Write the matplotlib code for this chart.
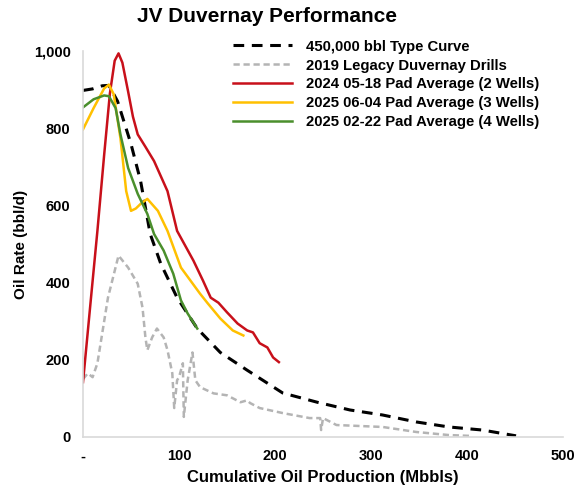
import matplotlib.pyplot as plt
from matplotlib.ticker import FuncFormatter

plt.rcParams['font.family'] = ['Liberation Sans', 'DejaVu Sans']
plt.rcParams['font.weight'] = 'bold'

# values (cum Mbbls, bbl/d)
type_x = [0, 10, 20, 27, 36, 50, 60, 70, 81, 98, 119, 143, 171, 208, 244, 278, 312, 347, 381, 416, 451]
type_y = [898, 902, 910, 911, 870, 759, 663, 526, 449, 361, 281, 219, 173, 114, 90, 70, 57, 39, 26, 18, 3]

legacy_x = [0, 5, 10, 15, 26, 37, 47, 57, 62, 65, 67, 72, 77, 84, 88, 93, 95, 98, 100, 104, 105,
            109, 114, 117, 122, 136, 150, 164, 171, 174, 184, 208, 236, 247, 248, 250, 264, 312, 347, 381, 402]
legacy_y = [150, 165, 155, 191, 361, 470, 439, 397, 335, 258, 225, 258, 281, 258, 225, 165, 75, 147,
            155, 191, 52, 147, 219, 147, 129, 113, 108, 90, 95, 88, 75, 62, 49, 49, 18, 49, 31, 26, 13, 5, 3]

red_x = [0, 8, 15, 22, 28, 33, 37, 41, 47, 52, 57, 65, 74, 88, 98, 115, 125, 133, 141, 150, 161, 171, 177, 184, 192, 198, 204]
red_y = [142, 352, 534, 730, 890, 975, 994, 970, 895, 830, 784, 752, 715, 637, 534, 457, 405, 361, 348, 323, 294, 276, 271, 243, 232, 206, 194]

yellow_x = [0, 11, 22, 27, 32, 39, 45, 50, 55, 60, 67, 78, 88, 102, 112, 122, 130, 143, 156, 167]
yellow_y = [797, 852, 903, 913, 888, 774, 637, 586, 592, 604, 617, 586, 534, 439, 405, 371, 346, 307, 276, 263]

green_x = [0, 11, 22, 27, 34, 39, 47, 57, 67, 74, 84, 94, 102, 109, 119]
green_y = [854, 875, 885, 883, 852, 784, 697, 630, 578, 526, 483, 423, 354, 320, 281]

labels = ['450,000 bbl Type Curve', '2019 Legacy Duvernay Drills',
          '2024 05-18 Pad Average (2 Wells)', '2025 06-04 Pad Average (3 Wells)',
          '2025 02-22 Pad Average (4 Wells)']

fig = plt.figure(figsize=(5.74, 4.91), dpi=100)
ax = fig.add_axes([0.1446, 0.110, 0.8364, 0.786])

ax.plot(type_x, type_y, color='black', lw=2.2, dashes=(3.5, 2.5), label=labels[0])
ax.plot(legacy_x, legacy_y, color='#B4B4B4', lw=1.8, dashes=(2.5, 1.5), label=labels[1])
ax.plot(red_x, red_y, color='#C8101A', lw=1.8, label=labels[2])
ax.plot(yellow_x, yellow_y, color='#FFC000', lw=1.8, label=labels[3])
ax.plot(green_x, green_y, color='#4A8F2C', lw=1.8, label=labels[4])

ax.set_xlim(0, 500)
ax.set_ylim(0, 1000)
ax.set_xticks([0, 100, 200, 300, 400, 500])
ax.set_yticks([0, 200, 400, 600, 800, 1000])
ax.xaxis.set_major_formatter(FuncFormatter(lambda v, p: '-' if v == 0 else f'{v:,.0f}'))
ax.yaxis.set_major_formatter(FuncFormatter(lambda v, p: f'{v:,.0f}'))
ax.tick_params(length=0, labelsize=10.5, pad=9)
for s in ['top', 'right']:
    ax.spines[s].set_visible(False)
for s in ['left', 'bottom']:
    ax.spines[s].set_color('#D9D9D9')
    ax.spines[s].set_linewidth(1.2)

ax.set_xlabel('Cumulative Oil Production (Mbbls)', fontsize=12, fontweight='bold', labelpad=5)
ax.set_ylabel('Oil Rate (bbl/d)', fontsize=11, fontweight='bold', labelpad=4)
fig.suptitle('JV Duvernay Performance', fontsize=15, fontweight='bold', x=0.465, y=0.985)

ax.legend(loc='upper left', bbox_to_anchor=(0.3, 1.045), frameon=False, fontsize=10.7,
          handlelength=4.0, labelspacing=0.33, handletextpad=0.9, borderaxespad=0)

fig.savefig('out.png', dpi=100)
